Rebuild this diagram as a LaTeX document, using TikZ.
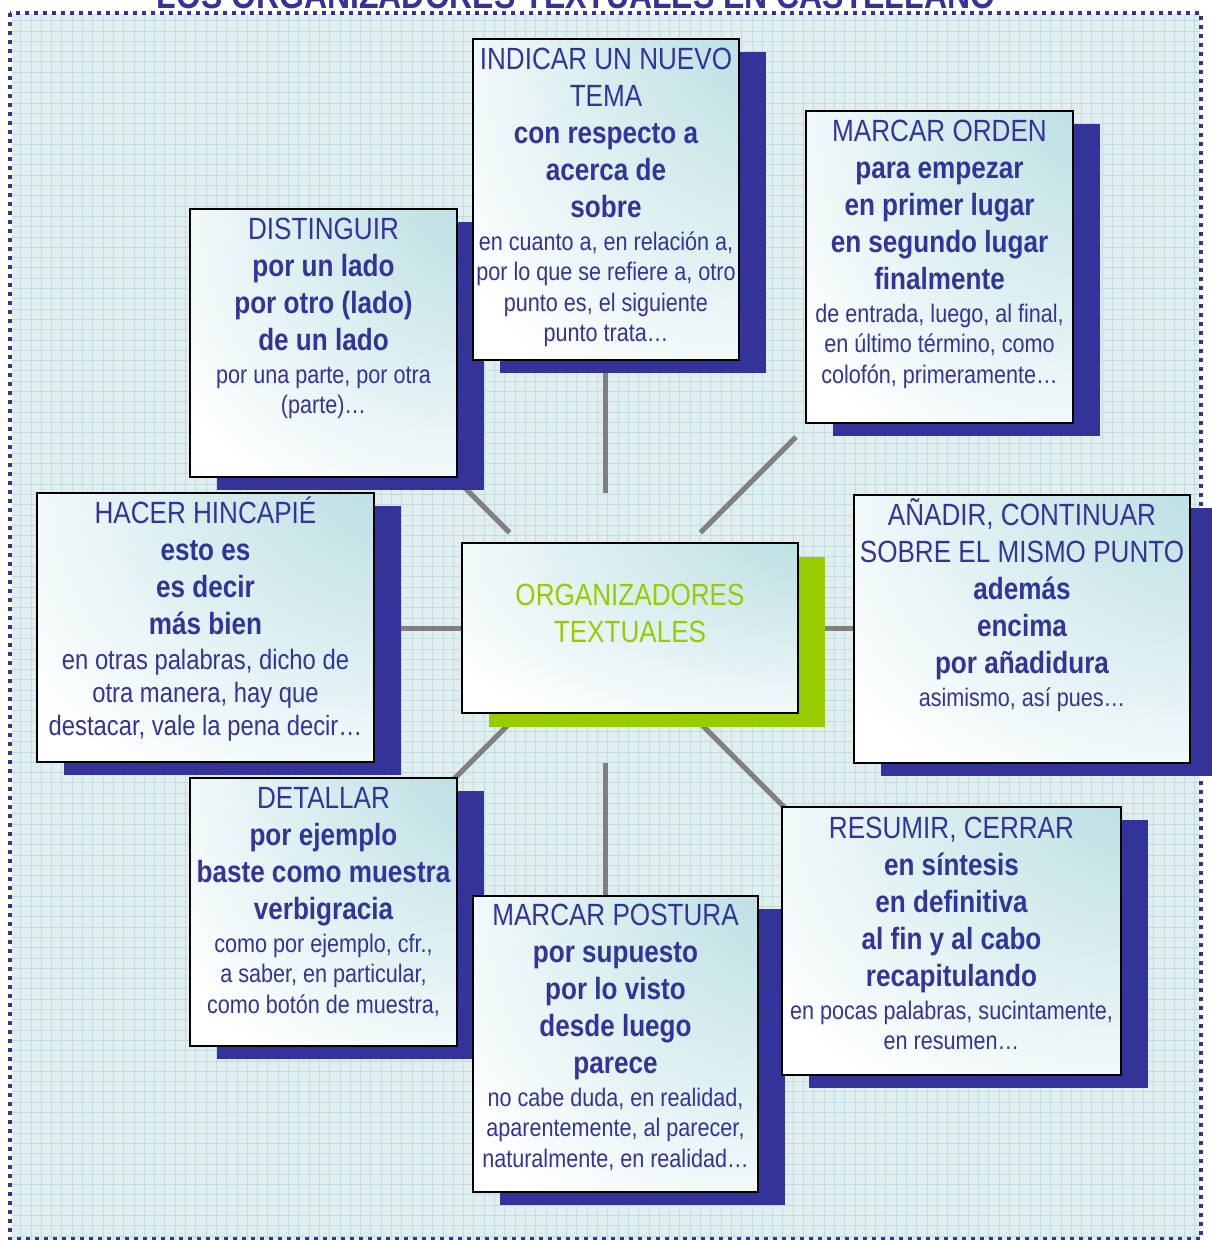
\documentclass[tikz,border=0pt]{standalone}
\usepackage{fontspec}
\setmainfont{Liberation Sans}[FakeStretch=0.85]
\usetikzlibrary{shadows,positioning}
\definecolor{ink}{RGB}{51,51,153}
\definecolor{lime}{RGB}{153,204,0}
\definecolor{aqua}{RGB}{178,219,223}
\definecolor{paper}{RGB}{225,238,239}
\definecolor{rule}{RGB}{193,220,222}
\definecolor{spokegray}{RGB}{128,128,128}
\pgfdeclareradialshading{cornerglow}{\pgfpoint{45bp}{45bp}}{color(0bp)=(aqua); color(10bp)=(aqua); color(56bp)=(white); color(100bp)=(white)}
\newcommand\bigtxt{\frenchspacing\fontsize{30.7}{37}\selectfont}
\newcommand\smalltxt{\par\vspace{2.5pt}\fontsize{25.4}{30.5}\selectfont\mdseries}
\newcommand\roomytxt{\par\vspace{2.5pt}\fontsize{28}{33}\selectfont\mdseries}

\begin{document}
\begin{tikzpicture}[x=1pt,y=-1pt]
\tikzstyle{card}=[draw=black,line width=2pt,inner sep=0pt,outer sep=0pt,anchor=north west,shade,shading=cornerglow]
\tikzstyle{bluecard}=[card,general shadow={fill=ink,opacity=1,shadow xshift=27pt,shadow yshift=-13pt}]
\tikzstyle{limecard}=[card,general shadow={fill=lime,opacity=1,shadow xshift=27pt,shadow yshift=-14pt}]
\tikzstyle{txt}=[text=ink,text width=340pt,align=flush center,anchor=base,inner sep=0pt,font=\bigtxt]
\tikzstyle{spoke}=[draw=spokegray,line width=5pt]
\useasboundingbox (0,0) rectangle (1212,1240);
\fill[paper] (12,14) rectangle (1200,1240);
\draw[rule,line width=0.8pt,step=10.3pt] (12,1240) grid (1200,14);
\draw[ink,line width=4pt,dash pattern=on 4pt off 5pt] (10,13) rectangle (1201,1239);
\node[text=ink,font=\fontsize{37.6}{45}\selectfont\bfseries,anchor=base,inner sep=0pt] (title) at (576,8) {LOS ORGANIZADORES TEXTUALES EN CASTELLANO};
\coordinate (hub) at (605,628);
\foreach \a in {0,45,...,315}
  \draw[spoke] ([shift={(\a:135)}]hub) -- ([shift={(\a:270)}]hub);

\node[bluecard,minimum width=267pt,minimum height=268pt] (distinguir) at (190,209) {};
\node[txt] (distinguirT) at ([yshift=-30pt]distinguir.north) {DISTINGUIR\\\bfseries por un lado\\por otro (lado)\\de un lado\smalltxt por una parte, por otra\\(parte)…\par};

\node[bluecard,minimum width=266pt,minimum height=321pt] (indicar) at (473,39) {};
\node[txt] (indicarT) at ([yshift=-30pt]indicar.north) {INDICAR UN NUEVO\\TEMA\\\bfseries con respecto a\\acerca de\\sobre\smalltxt en cuanto a, en relación a,\\por lo que se refiere a, otro\\punto es, el siguiente\\punto trata…\par};

\node[bluecard,minimum width=267pt,minimum height=312pt] (orden) at (806,111) {};
\node[txt] (ordenT) at ([yshift=-30pt]orden.north) {MARCAR ORDEN\\\bfseries para empezar\\en primer lugar\\en segundo lugar\\finalmente\smalltxt de entrada, luego, al final,\\en último término, como\\colofón, primeramente…\par};

\node[bluecard,minimum width=337pt,minimum height=269pt] (hincapie) at (37,493) {};
\node[txt] (hincapieT) at ([yshift=-30pt]hincapie.north) {HACER HINCAPIÉ\\\bfseries esto es\\es decir\\más bien\roomytxt en otras palabras, dicho de\\otra manera, hay que\\destacar, vale la pena decir…\par};

\node[limecard,minimum width=336pt,minimum height=170pt] (centro) at (462,543) {};
\node[txt,text=lime] (centroT) at ([yshift=-62pt]centro.north) {ORGANIZADORES\\TEXTUALES\par};

\node[bluecard,minimum width=336pt,minimum height=268pt] (anadir) at (854,495) {};
\node[txt] (anadirT) at ([yshift=-30pt]anadir.north) {AÑADIR, CONTINUAR\\SOBRE EL MISMO PUNTO\\\bfseries además\\encima\\por añadidura\smalltxt asimismo, así pues…\par};

\node[bluecard,minimum width=267pt,minimum height=268pt] (detallar) at (190,778) {};
\node[txt] (detallarT) at ([yshift=-30pt]detallar.north) {DETALLAR\\\bfseries por ejemplo\\baste como muestra\\verbigracia\smalltxt como por ejemplo, cfr.,\\a saber, en particular,\\como botón de muestra,\par};

\node[bluecard,minimum width=285pt,minimum height=296pt] (postura) at (473,896) {};
\node[txt] (posturaT) at ([yshift=-29pt]postura.north) {MARCAR POSTURA\\\bfseries por supuesto\\por lo visto\\desde luego\\parece\smalltxt no cabe duda, en realidad,\\aparentemente, al parecer,\\naturalmente, en realidad…\par};

\node[bluecard,minimum width=339pt,minimum height=268pt] (resumir) at (782,807) {};
\node[txt] (resumirT) at ([yshift=-31pt]resumir.north) {RESUMIR, CERRAR\\\bfseries en síntesis\\en definitiva\\al fin y al cabo\\recapitulando\smalltxt en pocas palabras, sucintamente,\\en resumen…\par};
\end{tikzpicture}
\end{document}
